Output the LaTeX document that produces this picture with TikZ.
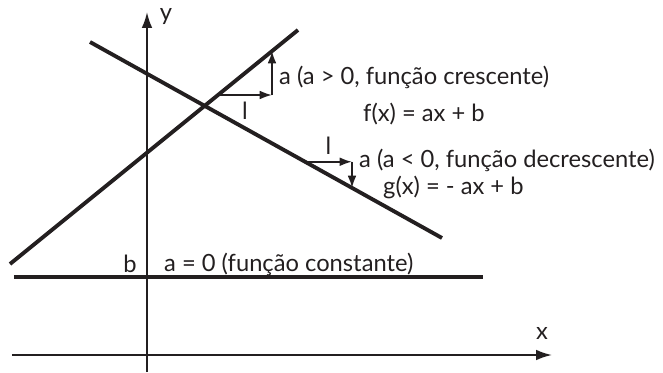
\documentclass[tikz,border=0pt]{standalone}
\usepackage{fontspec}
\setmainfont{Lato}
\usetikzlibrary{arrows.meta}
\definecolor{ink}{HTML}{231F20}
\begin{document}
\begin{tikzpicture}[font=\fontsize{13.5}{16}\selectfont, >=latex, color=ink,
  axis/.style={line width=1.1pt},
  graph/.style={line width=2.2pt},
  step arrow/.style={-{Latex[length=7pt,width=5pt]}, line width=1.1pt}]
  \useasboundingbox (-2.94,-0.34) rectangle (10.32,7.1);
  % axes
  \draw[axis,-{Latex[length=9pt,width=6pt]}] (-2.7,0) -- (8.1,0);
  \draw[axis,-{Latex[length=9pt,width=6pt]}] (0,-0.34) -- (0,6.86);
  \node (xlab) at (7.9,0.44) {x};
  \node (ylab) at (0.38,6.76) {y};
  % the three graphs
  \draw[graph] (-2.74,1.82) -- (3.02,6.5);
  \draw[graph] (-1.14,6.26) -- (5.9,2.34);
  \draw[graph] (-2.66,1.56) -- (6.72,1.56);
  % increasing
  \coordinate (p1) at (1.42,5.2); \coordinate (c1) at (2.5,5.2); \coordinate (q1) at (2.5,6.08);
  \draw[step arrow] (p1) -- (c1) node[midway, below=0pt] (l1) {l};
  \draw[step arrow] (c1) -- (q1);
  \node[anchor=west] (ta1) at (2.52,5.56) {a (a > 0, função crescente)};
  \node[anchor=west] (tf) at (4.2,4.82) {f(x) = ax + b};
  % decreasing
  \coordinate (p2) at (3.16,3.865); \coordinate (c2) at (4.1,3.865); \coordinate (q2) at (4.1,3.34);
  \draw[step arrow] (p2) -- (c2) node[midway, above=0pt] (l2) {l};
  \draw[step arrow] (c2) -- (q2);
  \node[anchor=west] (ta2) at (4.12,3.9) {a (a < 0, função decrescente)};
  \node[anchor=west] (tg) at (4.6,3.36) {g(x) = - ax + b};
  % constant
  \node (b) at (-0.34,1.82) {b};
  \node[anchor=west] (ta0) at (0.22,1.82) {a = 0 (função constante)};
\end{tikzpicture}
\end{document}
